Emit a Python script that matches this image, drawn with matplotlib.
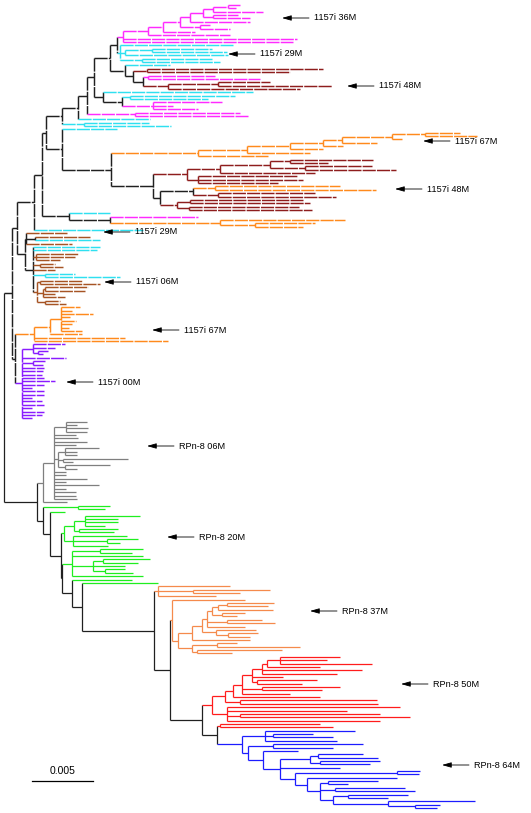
"""Phylogenetic tree of 1157i / RPn-8 sequences (rectangular layout)."""

import matplotlib
matplotlib.use("Agg")
import matplotlib.pyplot as plt
from matplotlib.collections import LineCollection

# leaf names in the Newick strings are colour codes
colours = {
    "m": "#ff2bff", "c": "#2fe0f0", "b": "#8e1d1d", "o": "#ff8a1c",
    "s": "#a65424", "p": "#8a1cff", "g": "#7f7f7f", "G": "#1fee1f",
    "l": "#f58a4c", "r": "#ff1c1c", "u": "#1c1cff",
}
backbone = "#202020"

# branch lengths in units of 1/61.5 of the 0.005 scale bar
UNIT = 0.005 / 61.5

# ---- 1157i part ----
V = "((m:12,m:8):15,m:50)"
U_ = "(" + V + ":10,(m:25,m:37):10)"
T_ = "(" + U_ + ":13,m:60)"
S_ = "(" + T_ + ":10,(m:10,m:30):20)"
R_ = "(" + S_ + ":17,m:32)"
Q_ = "(" + R_ + ":15,m:82)"
P_ = "(" + Q_ + ":25,m:174,m:170)"
Cy = "(c:113,((c:60,c:75):27,c:103):5,(c:70,c:78):22)"
X117 = "(" + P_ + ":6," + Cy + ":3)"
B3 = "(c:45,((b:176,b:143):14,((m:67,m:112):5,((b:52,b:114):50,b:132):25):10):8)"
X110 = "(" + X117 + ":7," + B3 + ":15)"
B4 = "(c:150,((c:105,c:78):8,(m:69,m:20,m:45):31):19)"
X94 = "(" + X110 + ":16," + B4 + ":9)"
X87 = "(" + X94 + ":7,(m:105,m:113):48)"
X78 = "(" + X87 + ":9,c:72)"
X62 = "(" + X78 + ":16,(c:65,c:87):22)"

O1 = "(o:35,o:52)"
O2 = "(" + O1 + ":33,o:10)"
O3 = "(" + O2 + ":50,o:35)"
O4 = "(" + O3 + ":19,o:20)"
O5 = "(" + O4 + ":33,o:33)"
O6 = "(" + O5 + ":43,o:63)"
O7 = "(" + O6 + ":49,o:70)"
Bw1 = "((((b:83,b:38):20,(b:67,b:91):35):50,b:95):33,(b:100,b:105,b:80):11)"
Bw2 = "(((o:125,o:161):22,(b:97,b:118):25):33,((b:113,b:120):13,(b:110,b:123):12):17)"
X153 = "(" + Bw1 + ":34," + Bw2 + ":7)"
X111 = "(" + O7 + ":87," + X153 + ":42)"
X62b = "(c:55," + X111 + ":49)"
X46 = "(" + X62 + ":16," + X62b + ":16)"
X69 = "(c:41,(m:88,(o:125,(o:60,o:48):35):110):41)"
X42 = "(" + X46 + ":4," + X69 + ":27)"
U = "(" + X42 + ":8,c:109)"

Ma = "(s:41,(s:55,c:65):9,s:46)"
X37s = "((s:42,s:60):3,((s:43,s:40):2,s:12,s:22):6,(s:15,s:21):8)"
X33 = "(c:67,c:64,(s:42,s:39,s:24):3,(s:15,s:23):7,s:22,(c:30,c:75):12," + X37s + ":4)"
M = "(" + Ma + ":1," + X33 + ":8)"
T_up = "(" + U + ":17," + M + ":8)"

O_low = "(((o:19,o:11,o:32,o:9,o:15,o:11,o:8,o:21):11,o:32):16,o:91,o:134)"
Pu = ("((p:32,p:22,(p:10,p:5):5):11,p:44,(p:12,p:10):11,p:22,p:21,p:20,p:22,p:33,"
      "p:22,p:10,p:22,p:22,p:10,p:20,p:22,p:10,p:22,p:20,p:10)")
T_low = "(" + O_low + ":19," + Pu + ":7)"
TOP = "(" + T_up + ":5," + T_low + ":3)"

# ---- RPn-8 part ----
Gr = ("((g:21,g:11,g:22,g:21):12,g:22,g:24,g:33,g:22,((g:34,g:12,g:12):7,(g:65,g:10):5,"
      "(g:45,g:12):7):4,g:12,g:12,g:33,g:12,g:45,g:12,g:22,g:22,g:23)")
X43g = "(" + Gr + ":11,g:24)"

GsubA = "(((G:55,G:33,G:33,G:20):11,(G:39,G:35):5):10,(G:54,(G:31,G:13):34,G:35):9)"
GsubB = "((G:43,G:32):28,G:71,((G:47,G:35):10,G:32,(G:20,G:28):12):21,G:71)"

LoTop = "(l:72,(l:77,l:47):35,l:58)"
C1 = "((l:47,l:41):9,l:55)"
C2 = "(" + C1 + ":6,(l:23,l:15):10)"
C3 = "(" + C2 + ":5,(l:35,l:48):20,l:38)"
C4 = "(" + C3 + ":5,(l:40,(l:30,l:22):12):14)"
C5 = "(" + C4 + ":10,l:58)"
LoBot = "((l:20,l:83):25,(l:85,l:35):5)"
X178 = "(" + C5 + ":14," + LoBot + ":14)"
LoMid = "(l:73," + X178 + ":6)"

R1 = "(r:60,r:47,r:92)"
R2 = "(" + R1 + ":13,r:53)"
R3 = "(" + R2 + ":5,r:100,r:75)"
R4 = "(" + R3 + ":10,r:31,(r:60,r:45):5)"
R5 = "(" + R4 + ":10,(r:78,r:60):20,r:48)"
R6 = "(" + R5 + ":9,r:87)"
R7 = "(" + R6 + ":8,(r:137,r:138):15)"
Rlow = "(r:173,r:120,(r:140,r:170):13,r:153)"
R_up = "(" + R7 + ":13," + Rlow + ":15)"

S1 = "(u:87,(u:25,u:22):27)"
S2 = "((u:60,u:40):15," + S1 + ":55)"
S3 = "((u:50,u:20):8,(u:70,u:80):15," + S2 + ":13)"
S4 = "(u:90," + S3 + ":13)"
S5 = "((u:23,u:22):102," + S4 + ":12)"
S6 = "(((u:45,u:60):8,(u:60,u:50):10):30,u:60," + S5 + ":15)"
S7 = "(u:35," + S6 + ":17)"
S8 = "((u:90,u:60):25," + S7 + ":15)"
BuTop = "(u:90,(u:40,u:60):8,u:72)"
Bu0 = "(" + BuTop + ":23," + S8 + ":6)"

K217 = "((r:100,r:113):3," + Bu0 + ":25)"
K202 = "(" + R_up + ":10," + K217 + ":15)"
K170 = "(" + LoMid + ":2," + K202 + ":32)"
K154 = "(" + LoTop + ":4," + K170 + ":16)"
K82 = "(G:76," + K154 + ":72)"
K72 = "(G:60," + K82 + ":10)"
K62 = "(" + GsubB + ":10," + K72 + ":10)"
K61 = "(" + GsubA + ":3," + K62 + ":1)"
K50 = "(G:15," + K61 + ":11)"
K43 = "((G:32,G:27):35," + K50 + ":7)"
K37 = "(" + X43g + ":6," + K43 + ":6)"

tree = "(" + TOP + ":8," + K37 + ":33);"

labels = ["1157i 36M", "1157i 29M", "1157i 48M", "1157i 67M", "1157i 48M",
          "1157i 29M", "1157i 06M", "1157i 67M", "1157i 00M", "RPn-8 06M",
          "RPn-8 20M", "RPn-8 37M", "RPn-8 50M", "RPn-8 64M"]
# arrow head position (pixels from top-left) for each label
label_pos = [(282, 18), (228, 54), (347, 86), (423, 141), (395, 189),
             (103, 232), (104, 282), (152, 330), (66, 382), (147, 446),
             (167, 537), (310, 611), (401, 684), (442, 765)]


def parse(s):
    pos = 0

    def node():
        nonlocal pos
        kids, name = [], ""
        if s[pos] == "(":
            pos += 1
            while True:
                kids.append(node())
                if s[pos] == ",":
                    pos += 1
                    continue
                pos += 1
                break
        else:
            while s[pos] not in ":,);":
                name += s[pos]
                pos += 1
        length = 0.0
        if s[pos] == ":":
            pos += 1
            start = pos
            while s[pos] not in ",);":
                pos += 1
            length = float(s[start:pos])
        return {"name": name, "len": length, "kids": kids}

    return node()


root = parse(tree)
n_leaf = [0]


def layout(n, x0, dashed):
    n["x"] = x0 + n["len"] * UNIT
    n["dash"] = dashed
    if n["kids"]:
        for i, k in enumerate(n["kids"]):
            layout(k, n["x"], dashed if n is not root else i == 0)
        n["y"] = (n["kids"][0]["y"] + n["kids"][-1]["y"]) / 2
        cols = {k["col"] for k in n["kids"]}
        n["col"] = cols.pop() if len(cols) == 1 else backbone
    else:
        n["y"] = n_leaf[0]
        n_leaf[0] += 1
        n["col"] = colours[n["name"]]


layout(root, 0.0, False)

segs = {True: ([], []), False: ([], [])}


def collect(n, parent_x):
    seg, col = segs[n["dash"]]
    if parent_x is not None:
        seg.append([(parent_x, n["y"]), (n["x"], n["y"])])
        col.append(n["col"])
    if n["kids"]:
        seg.append([(n["x"], n["kids"][0]["y"]), (n["x"], n["kids"][-1]["y"])])
        col.append(n["col"])
        for k in n["kids"]:
            collect(k, n["x"])


collect(root, None)

W, H = 531, 813
fig = plt.figure(figsize=(W / 100, H / 100), dpi=100)
ax = fig.add_axes([0, 0, 1, 1])
sp = 803 / (n_leaf[0] - 1)  # pixels per leaf
ax.set_xlim(-4 * UNIT, (W - 4) * UNIT)
ax.set_ylim((H - 5) / sp, -5 / sp)
ax.axis("off")

for dashed, (seg, col) in segs.items():
    ls = (0, (9, 0.8)) if dashed else "solid"
    lw = 1.05 if dashed else 0.9
    ax.add_collection(LineCollection(seg, colors=col, linewidths=lw,
                                     linestyles=ls, capstyle="butt"))

# scale bar
bar_x = 28 * UNIT
bar_y = (781 - 5) / sp
ax.plot([bar_x, bar_x + 0.005], [bar_y, bar_y], color="black", lw=0.9)
ax.text(bar_x + 0.0025, (771 - 5) / sp, "0.005", ha="center", va="center",
        fontsize=7.5, family="Liberation Sans")

for lab, (hx, hy) in zip(labels, label_pos):
    ax.annotate("", xy=(hx, H - hy), xytext=(hx + 27, H - hy),
                xycoords="figure pixels", textcoords="figure pixels",
                arrowprops=dict(arrowstyle="-|>,head_length=0.7,head_width=0.2",
                                color="black", lw=0.6, shrinkA=0, shrinkB=0,
                                mutation_scale=8))
    fig.text((hx + 32) / W, 1 - hy / H, lab, ha="left", va="center",
             fontsize=6.6, family="Liberation Sans")

fig.savefig("out.png", dpi=100)
